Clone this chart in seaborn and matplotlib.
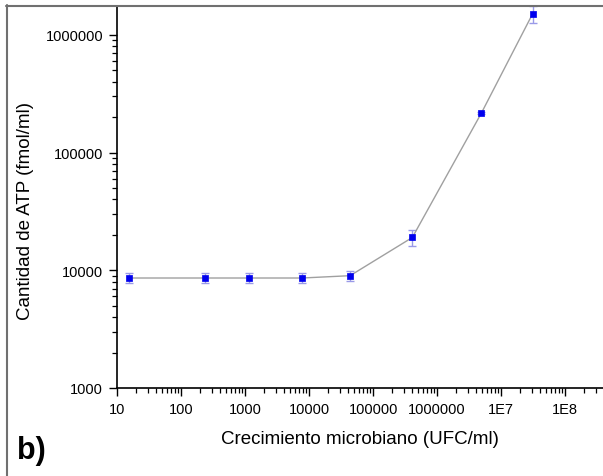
import numpy as np
import pandas as pd
import matplotlib
matplotlib.use("Agg")
import matplotlib.pyplot as plt
from matplotlib.lines import Line2D
from matplotlib.ticker import FixedLocator, LogLocator, NullFormatter
import seaborn as sns

# Data
ufc = [15.4, 237, 1150, 7800, 43700, 410000, 4.9e6, 3.1e7]
atp = [8600, 8600, 8600, 8600, 9000, 19000, 216000, 1.51e6]
atp_err = [800, 800, 800, 800, 900, 2900, 5000, 250000]

x_ticks = [10, 100, 1000, 10000, 100000, 1000000, 1e7, 1e8]
x_ticklabels = ["10", "100", "1000", "10000", "100000", "1000000", "1E7", "1E8"]
y_ticks = [1000, 10000, 100000, 1000000]
y_ticklabels = ["1000", "10000", "100000", "1000000"]

df = pd.DataFrame({"ufc": ufc, "atp": atp, "err": atp_err})

sns.set_style("ticks")
plt.rcParams["font.family"] = ["Liberation Sans", "DejaVu Sans"]
plt.rcParams["text.color"] = "black"
plt.rcParams["axes.labelcolor"] = "black"
plt.rcParams["xtick.color"] = "black"
plt.rcParams["ytick.color"] = "black"

fig = plt.figure(figsize=(6.03, 4.77), dpi=100)
ax = fig.add_axes([117 / 603, 88 / 477, (603 - 117) / 603, (389 - 7) / 477])

ax.errorbar(df["ufc"], df["atp"], yerr=df["err"], fmt="none",
            ecolor="#9a9ae8", elinewidth=1.0, capsize=3, capthick=1.0, zorder=2)
sns.lineplot(data=df, x="ufc", y="atp", ax=ax, color="#a0a0a0", linewidth=1.0,
             estimator=None, sort=False, zorder=3)
sns.scatterplot(data=df, x="ufc", y="atp", ax=ax, marker="s", s=22,
                color="#0000ee", edgecolor="#0000ee", linewidth=0.5, zorder=4)

ax.set_xscale("log")
ax.set_yscale("log")
ax.set_xlim(10, 3.9e8)
ax.set_ylim(1000, 1.76e6)

ax.xaxis.set_major_locator(FixedLocator(x_ticks))
ax.set_xticklabels(x_ticklabels)
ax.yaxis.set_major_locator(FixedLocator(y_ticks))
ax.set_yticklabels(y_ticklabels)
ax.xaxis.set_minor_locator(LogLocator(base=10, subs=np.arange(2, 10)))
ax.yaxis.set_minor_locator(LogLocator(base=10, subs=np.arange(2, 10)))
ax.xaxis.set_minor_formatter(NullFormatter())
ax.yaxis.set_minor_formatter(NullFormatter())

ax.tick_params(which="major", direction="out", length=6, width=1.0, color="black",
               labelsize=10.5, labelcolor="black", pad=4)
ax.tick_params(which="minor", direction="out", length=3.5, width=0.9, color="black")

for s in ["top", "right"]:
    ax.spines[s].set_visible(False)
for s in ["left", "bottom"]:
    ax.spines[s].set_linewidth(1.2)
    ax.spines[s].set_color("black")

ax.set_xlabel("Crecimiento microbiano (UFC/ml)", fontsize=13.5, color="black")
ax.set_ylabel("Cantidad de ATP (fmol/ml)", fontsize=13.5, color="black")
ax.xaxis.set_label_coords(0.5, -(440 - 389) / 382, transform=ax.transAxes)
ax.yaxis.set_label_coords((26 - 117) / 486, (389 - 211) / 382, transform=ax.transAxes)
ax.xaxis.label.set_va("center")
ax.yaxis.label.set_va("center")

# figure frame (left and top border lines)
fig.add_artist(Line2D([6.5 / 603, 6.5 / 603], [0, 1 - 6 / 477], transform=fig.transFigure,
                      color="#707070", linewidth=1.5))
fig.add_artist(Line2D([6 / 603, 1], [1 - 7 / 477, 1 - 7 / 477], transform=fig.transFigure,
                      color="#707070", linewidth=1.5))

fig.text(17 / 603, 1 - 451 / 477, "b)", fontsize=22, fontweight="bold",
         va="center", ha="left", color="black")

fig.savefig("out.png", dpi=100)
